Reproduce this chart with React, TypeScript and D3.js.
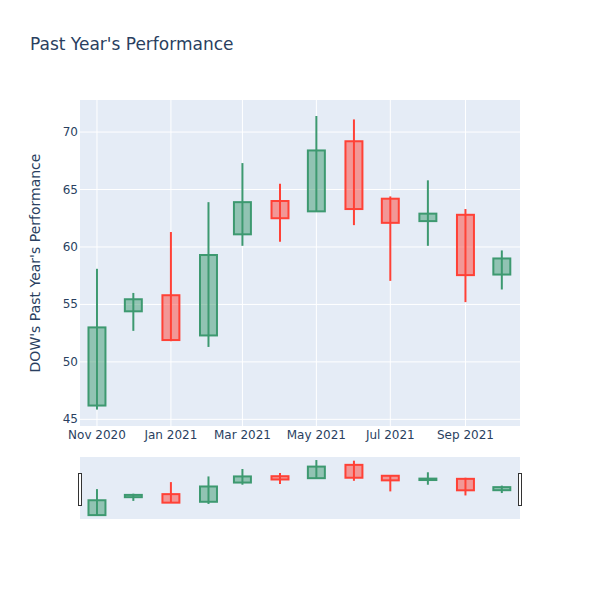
import React, { useEffect, useRef } from 'react'
import * as d3 from 'd3'

// monthly candles, Nov 2020 .. Oct 2021
const months = ['2020-11-01','2020-12-01','2021-01-01','2021-02-01','2021-03-01','2021-04-01','2021-05-01','2021-06-01','2021-07-01','2021-08-01','2021-09-01','2021-10-01']
const opens  = [46.2, 54.4, 55.8, 52.3, 61.1, 64.0, 63.1, 69.2, 64.2, 62.25, 62.8, 57.6]
const highs  = [58.1, 56.0, 61.3, 63.9, 67.3, 65.5, 71.4, 71.1, 64.4, 65.8, 63.3, 59.7]
const lows   = [45.85, 52.7, 51.8, 51.3, 60.1, 60.45, 63.1, 61.9, 57.05, 60.1, 55.2, 56.3]
const closes = [53.0, 55.45, 51.9, 59.3, 63.9, 62.5, 68.4, 63.3, 62.1, 62.9, 57.55, 59.0]
const yTicks = [45, 50, 55, 60, 65, 70]
const xTickDates = ['2020-11-01','2021-01-01','2021-03-01','2021-05-01','2021-07-01','2021-09-01']

const parse = (s: string) => { const [y, m, d] = s.split('-').map(Number); return new Date(Date.UTC(y, m - 1, d)) }

export default function App(){
  const svgRef = useRef<SVGSVGElement>(null)

  useEffect(()=>{
    const width = 600, height = 600
    const m = { left: 80, right: 80, top: 100 }
    const plotH = 326, slTop = 457, slH = 62
    const svg = d3.select(svgRef.current).attr('width', width).attr('height', height)
    svg.selectAll('*').remove()
    const font = '"DejaVu Sans", verdana, arial, sans-serif'
    const ink = '#2a3f5f'

    const data = months.map((d, i) => ({ date: parse(d), o: opens[i], h: highs[i], l: lows[i], c: closes[i] }))

    const x = d3.scaleUtc()
      .domain([d3.utcDay.offset(parse('2020-11-01'), -13.2), d3.utcDay.offset(parse('2021-09-01'), 45.3)])
      .range([m.left, width - m.right])
    const y = d3.scaleLinear().domain([44.42, 72.79]).range([m.top + plotH, m.top])
    const ySl = d3.scaleLinear().domain([44.42, 72.79]).range([slTop + slH, slTop])
    const halfW = (d: Date) => (x(d3.utcDay.offset(d, 7)) - x(d3.utcDay.offset(d, -7))) / 2

    svg.append('text').attr('x', 30).attr('y', 50).attr('fill', ink).attr('font-family', font).attr('font-size', 17)
      .text("Past Year's Performance")

    // main plot background + grid
    svg.append('rect').attr('x', m.left).attr('y', m.top).attr('width', width - m.left - m.right).attr('height', plotH).attr('fill', '#e5ecf6')
    const grid = svg.append('g')
    grid.selectAll('line.gy').data(yTicks).join('line').attr('class', 'gy')
      .attr('x1', m.left).attr('x2', width - m.right).attr('y1', d => y(d)).attr('y2', d => y(d))
      .attr('stroke', '#fff').attr('stroke-width', 1)
    grid.selectAll('line.gx').data(xTickDates.map(parse)).join('line').attr('class', 'gx')
      .attr('x1', d => x(d)).attr('x2', d => x(d)).attr('y1', m.top).attr('y2', m.top + plotH)
      .attr('stroke', '#fff').attr('stroke-width', 1)

    // tick labels
    svg.append('g').selectAll('text').data(yTicks).join('text')
      .attr('x', m.left - 2).attr('y', d => y(d) + 4).attr('text-anchor', 'end')
      .attr('fill', ink).attr('font-family', font).attr('font-size', 12).text(d => d)
    svg.append('g').selectAll('text').data(xTickDates.map(parse)).join('text')
      .attr('x', d => x(d)).attr('y', m.top + plotH + 13).attr('text-anchor', 'middle')
      .attr('fill', ink).attr('font-family', font).attr('font-size', 12)
      .text(d => d3.utcFormat('%b %Y')(d))

    svg.append('text').attr('transform', `translate(40,${m.top + plotH / 2}) rotate(-90)`).attr('text-anchor', 'middle')
      .attr('fill', ink).attr('font-family', font).attr('font-size', 14).text("DOW's Past Year's Performance")

    const drawCandles = (g: any, ys: any) => {
      const col = (d: any) => d.c >= d.o ? '#3D9970' : '#FF4136'
      const fill = (d: any) => d.c >= d.o ? 'rgba(61,153,112,0.5)' : 'rgba(255,65,54,0.5)'
      const c = g.selectAll('g').data(data).join('g')
      c.append('line').attr('x1', (d: any) => x(d.date)).attr('x2', (d: any) => x(d.date))
        .attr('y1', (d: any) => ys(d.h)).attr('y2', (d: any) => ys(d.l))
        .attr('stroke', col).attr('stroke-width', 2)
      c.append('rect')
        .attr('x', (d: any) => x(d.date) - halfW(d.date))
        .attr('width', (d: any) => 2 * halfW(d.date))
        .attr('y', (d: any) => ys(Math.max(d.o, d.c)))
        .attr('height', (d: any) => Math.abs(ys(d.o) - ys(d.c)))
        .attr('fill', fill).attr('stroke', col).attr('stroke-width', 2)
    }
    drawCandles(svg.append('g'), y)

    // range slider
    svg.append('rect').attr('x', m.left).attr('y', slTop).attr('width', width - m.left - m.right).attr('height', slH).attr('fill', '#e5ecf6')
    svg.append('clipPath').attr('id', 'slclip').append('rect')
      .attr('x', m.left).attr('y', slTop).attr('width', width - m.left - m.right).attr('height', slH)
    drawCandles(svg.append('g').attr('clip-path', 'url(#slclip)'), ySl)
    ;[m.left, width - m.right].forEach(hx => {
      svg.append('rect').attr('x', hx - 2).attr('y', slTop + 16.5).attr('width', 3.5).attr('height', 31.5)
        .attr('fill', '#fff').attr('stroke', '#333').attr('stroke-width', 1).attr('shape-rendering', 'crispEdges')
    })
  },[])

  return (<div><svg ref={svgRef} style={{ position: 'absolute', left: 0, top: 0, background: '#fff' }}></svg></div>)
}
